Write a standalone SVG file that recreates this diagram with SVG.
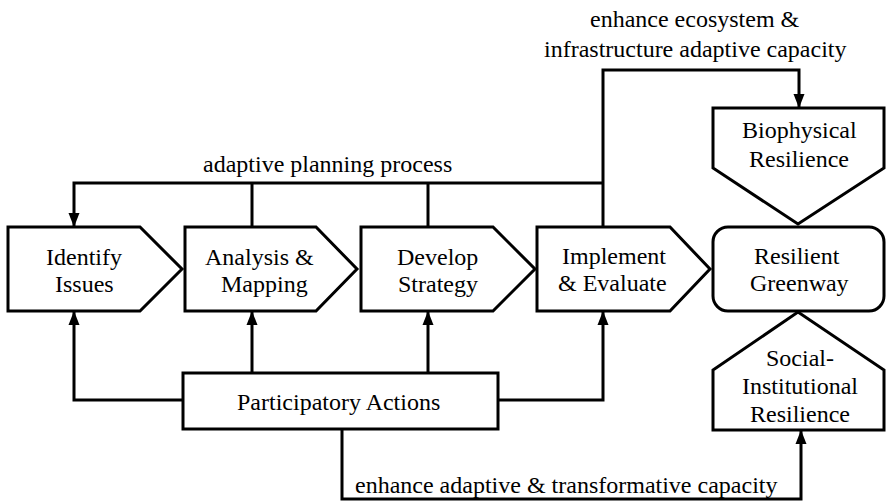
<svg xmlns="http://www.w3.org/2000/svg" width="887" height="501" viewBox="0 0 887 501" font-family="Liberation Serif" font-size="24">
<defs>
<marker id="ah" markerUnits="userSpaceOnUse" markerWidth="14" markerHeight="14" viewBox="0 0 14 14" refX="14" refY="7" orient="auto">
<path d="M0,1.5 L14,7 L0,12.5 Z" fill="#000"/>
</marker>
</defs>
<rect width="887" height="501" fill="#fff"/>
<g id="connectors" fill="none" stroke="#000" stroke-width="3">
<path d="M603,183 H74 V227" marker-end="url(#ah)"/>
<path d="M252,183 V227"/>
<path d="M428,183 V227"/>
<path d="M603,227 V70 H799 V108" marker-end="url(#ah)"/>
<path d="M183,400 H74 V311" marker-end="url(#ah)"/>
<path d="M252,373 V311" marker-end="url(#ah)"/>
<path d="M428,373 V311" marker-end="url(#ah)"/>
<path d="M498,400 H603 V311" marker-end="url(#ah)"/>
<path d="M342,429 V499 H801 V430" marker-end="url(#ah)"/>
</g>
<g id="labels">
<text x="203" y="172" font-family="Liberation Serif">adaptive planning process</text>
<text x="590" y="27" font-family="Liberation Serif">enhance ecosystem &amp;</text>
<text x="544" y="57" font-family="Liberation Serif">infrastructure adaptive capacity</text>
<text x="355" y="493" font-family="Liberation Serif">enhance adaptive &amp; transformative capacity</text>
</g>
<g id="identify">
<polygon fill="#fff" stroke="#000" stroke-width="3" points="8,227 140,227 182,269 140,311 8,311"/>
<text x="46" y="265" font-family="Liberation Serif">Identify</text>
<text x="55" y="292" font-family="Liberation Serif">Issues</text>
</g>
<g id="analysis">
<polygon fill="#fff" stroke="#000" stroke-width="3" points="185,227 316,227 357,269 316,311 185,311"/>
<text x="205" y="265" font-family="Liberation Serif">Analysis &amp;</text>
<text x="221" y="292" font-family="Liberation Serif">Mapping</text>
</g>
<g id="develop">
<polygon fill="#fff" stroke="#000" stroke-width="3" points="361,227 493,227 535,269 493,311 361,311"/>
<text x="397" y="265" font-family="Liberation Serif">Develop</text>
<text x="398" y="292" font-family="Liberation Serif">Strategy</text>
</g>
<g id="implement">
<polygon fill="#fff" stroke="#000" stroke-width="3" points="537,227 670,227 710,269 670,311 537,311"/>
<text x="562" y="264" font-family="Liberation Serif">Implement</text>
<text x="558" y="291" font-family="Liberation Serif">&amp; Evaluate</text>
</g>
<g id="greenway">
<rect fill="#fff" stroke="#000" stroke-width="3" x="713" y="227" width="171" height="84" rx="15"/>
<text x="754" y="264" font-family="Liberation Serif">Resilient</text>
<text x="750" y="291" font-family="Liberation Serif">Greenway</text>
</g>
<g id="biophysical">
<polygon fill="#fff" stroke="#000" stroke-width="3" points="713,108 884,108 884,168 798,224 713,168"/>
<text x="742" y="138" font-family="Liberation Serif">Biophysical</text>
<text x="749" y="167" font-family="Liberation Serif">Resilience</text>
</g>
<g id="social">
<polygon fill="#fff" stroke="#000" stroke-width="3" points="713,430 713,370 798,312 884,370 884,430"/>
<text x="766" y="366" font-family="Liberation Serif">Social-</text>
<text x="742" y="394" font-family="Liberation Serif">Institutional</text>
<text x="750" y="422" font-family="Liberation Serif">Resilience</text>
</g>
<g id="participatory">
<rect fill="#fff" stroke="#000" stroke-width="3" x="183" y="373" width="315" height="56"/>
<text x="237" y="410" font-family="Liberation Serif">Participatory Actions</text>
</g>
</svg>
